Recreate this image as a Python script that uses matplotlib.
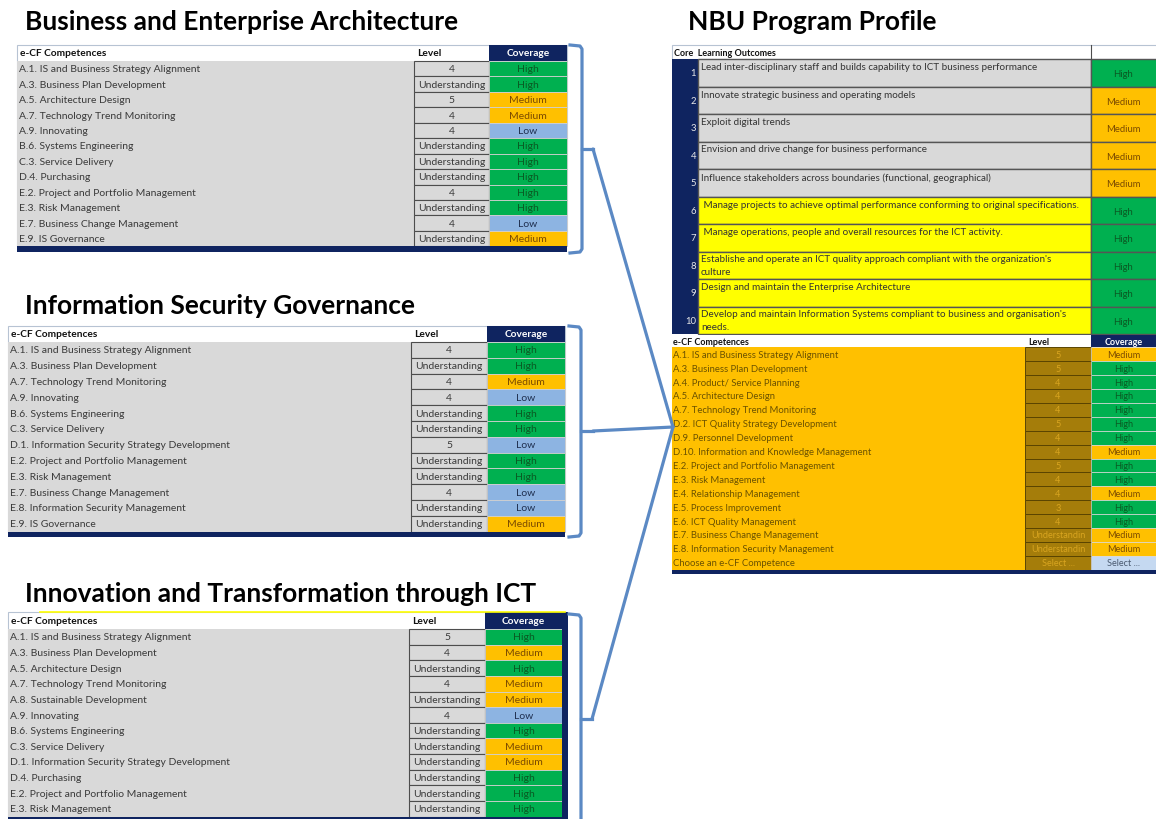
import matplotlib as mpl
import matplotlib.pyplot as plt
from matplotlib.patches import Rectangle

mpl.rcParams['font.family'] = ['Lato', 'DejaVu Sans']

# ---- data ----
bea_comp = ['A.1. IS and Business Strategy Alignment', 'A.3. Business Plan Development',
            'A.5. Architecture Design', 'A.7. Technology Trend Monitoring', 'A.9. Innovating',
            'B.6. Systems Engineering', 'C.3. Service Delivery', 'D.4. Purchasing',
            'E.2. Project and Portfolio Management', 'E.3. Risk Management',
            'E.7. Business Change Management', 'E.9. IS Governance']
bea_level = ['4', 'Understanding', '5', '4', '4', 'Understanding', 'Understanding',
             'Understanding', '4', 'Understanding', '4', 'Understanding']
bea_cov = ['High', 'High', 'Medium', 'Medium', 'Low', 'High', 'High', 'High', 'High',
           'High', 'Low', 'Medium']

isg_comp = ['A.1. IS and Business Strategy Alignment', 'A.3. Business Plan Development',
            'A.7. Technology Trend Monitoring', 'A.9. Innovating', 'B.6. Systems Engineering',
            'C.3. Service Delivery', 'D.1. Information Security Strategy Development',
            'E.2. Project and Portfolio Management', 'E.3. Risk Management',
            'E.7. Business Change Management', 'E.8. Information Security Management',
            'E.9. IS Governance']
isg_level = ['4', 'Understanding', '4', '4', 'Understanding', 'Understanding', '5',
             'Understanding', 'Understanding', '4', 'Understanding', 'Understanding']
isg_cov = ['High', 'High', 'Medium', 'Low', 'High', 'High', 'Low', 'High', 'High', 'Low',
           'Low', 'Medium']

itt_comp = ['A.1. IS and Business Strategy Alignment', 'A.3. Business Plan Development',
            'A.5. Architecture Design', 'A.7. Technology Trend Monitoring',
            'A.8. Sustainable Development', 'A.9. Innovating', 'B.6. Systems Engineering',
            'C.3. Service Delivery', 'D.1. Information Security Strategy Development',
            'D.4. Purchasing', 'E.2. Project and Portfolio Management', 'E.3. Risk Management']
itt_level = ['5', '4', 'Understanding', '4', 'Understanding', '4', 'Understanding',
             'Understanding', 'Understanding', 'Understanding', 'Understanding', 'Understanding']
itt_cov = ['High', 'Medium', 'High', 'Medium', 'Medium', 'Low', 'High', 'Medium', 'Medium',
           'High', 'High', 'High']

nbu_outcomes = [
    'Lead inter-disciplinary staff and builds capability to ICT business performance',
    'Innovate strategic business and operating models',
    'Exploit digital trends',
    'Envision and drive change for business performance',
    'Influence stakeholders across boundaries (functional, geographical)',
    ' Manage projects to achieve optimal performance conforming to original specifications.',
    ' Manage operations, people and overall resources for the ICT activity.',
    "Establishe and operate an ICT quality approach compliant with the organization's\nculture",
    'Design and maintain the Enterprise Architecture',
    "Develop and maintain Information Systems compliant to business and organisation's\nneeds.",
]
nbu_outcome_cov = ['High', 'Medium', 'Medium', 'Medium', 'Medium', 'High', 'High', 'High',
                   'High', 'High']

nbu_comp = ['A.1. IS and Business Strategy Alignment', 'A.3. Business Plan Development',
            'A.4. Product/ Service Planning', 'A.5. Architecture Design',
            'A.7. Technology Trend Monitoring', 'D.2. ICT Quality Strategy Development',
            'D.9. Personnel Development', 'D.10. Information and Knowledge Management',
            'E.2. Project and Portfolio Management', 'E.3. Risk Management',
            'E.4. Relationship Management', 'E.5. Process Improvement',
            'E.6. ICT Quality Management', 'E.7. Business Change Management',
            'E.8. Information Security Management', 'Choose an e-CF Competence']
nbu_level = ['5', '5', '4', '4', '4', '5', '4', '4', '5', '4', '4', '3', '4',
             'Understandin', 'Understandin', 'Select ...']
nbu_cov = ['Medium', 'High', 'High', 'High', 'High', 'High', 'High', 'Medium', 'High',
           'High', 'Medium', 'High', 'High', 'Medium', 'Medium', 'Select ...']

# ---- styles ----
NAVY = '#0f2460'
GRAY = '#d9d9d9'
BLUE_LINE = '#5b89c4'
cov_fill = {'High': '#00b050', 'Medium': '#ffc000', 'Low': '#8db4e2', 'Select ...': '#c5d9f1'}
cov_text = {'High': '#0a5a23', 'Medium': '#7a4a00', 'Low': '#1f2f4f', 'Select ...': '#4a5a70'}

fig = plt.figure(figsize=(11.56, 8.20), dpi=100)
ax = fig.add_axes([0, 0, 1, 1])
ax.set_xlim(0, 1156)
ax.set_ylim(820, 0)
ax.axis('off')


def box(x0, y0, x1, y1, fc, ec='none', lw=0.0, z=1):
    ax.add_patch(Rectangle((x0, y0), x1 - x0, y1 - y0, facecolor=fc, edgecolor=ec,
                           linewidth=lw, zorder=z))


def ecf_table(comps, levels, covs, x0, xl, xc, x1, y0, yh, yr, yb, right_bar=False):
    fs = 7.5
    # header
    box(x0, y0, x1, yr, 'white', ec='#b7c3d3', lw=0.8, z=0)
    ax.text(x0 + 3, (y0 + yh) / 2, 'e-CF Competences', fontsize=7.3, fontweight='bold',
            va='center', color='#111111', zorder=5)
    ax.text(xl + 3, (y0 + yh) / 2, 'Level', fontsize=7.3, fontweight='bold',
            va='center', color='#111111', zorder=5)
    box(xc, y0, x1, yh, NAVY, z=2)
    ax.text((xc + x1) / 2, (y0 + yh) / 2, 'Coverage', fontsize=7.3, fontweight='bold',
            ha='center', va='center', color='white', zorder=5)
    n = len(comps)
    h = (yr - yh) / n
    box(x0, yh, xl, yr, GRAY, z=1)
    for i in range(n):
        ya = yh + i * h
        yc = ya + h / 2
        ax.text(x0 + 2, yc, comps[i], fontsize=fs, va='center', color='#3a3a3a', zorder=5)
        box(xl, ya, xc, ya + h, GRAY, ec='#4d4d4d', lw=0.8, z=2)
        ax.text((xl + xc) / 2, yc, levels[i], fontsize=fs, ha='center', va='center',
                color='#3a3a3a', zorder=5)
        box(xc, ya, x1, ya + h, cov_fill[covs[i]], ec='#d0d0d0', lw=0.6, z=2)
        ax.text((xc + x1) / 2, yc, covs[i], fontsize=fs, ha='center', va='center',
                color=cov_text[covs[i]], zorder=5)
    box(x0, yr, x1 + (6 if right_bar else 0), yb, NAVY, z=3)
    if right_bar:
        box(x1, y0, x1 + 6, yb, NAVY, z=3)


def brace(x, y0, y1, ytip, xtip):
    ax.plot([x - 12, x - 2, x, x, x - 2, x - 12],
            [y0, y0 + 1, y0 + 4, y1 - 4, y1 - 1, y1],
            color=BLUE_LINE, lw=2.3, solid_joinstyle='round', zorder=6)
    ax.plot([x, xtip], [ytip, ytip], color=BLUE_LINE, lw=2.3, zorder=6)


# ---- titles ----
title_kw = dict(fontsize=19, fontweight='bold', va='center', color='black')
ax.text(25, 22, 'Business and Enterprise Architecture', **title_kw)
ax.text(25, 306, 'Information Security Governance', **title_kw)
ax.text(25, 594, 'Innovation and Transformation through ICT', **title_kw)
ax.text(688, 22, 'NBU Program Profile', **title_kw)

# ---- left tables ----
ecf_table(bea_comp, bea_level, bea_cov, 17, 414, 489, 567, 46, 62, 247.3, 253.3)
ecf_table(isg_comp, isg_level, isg_cov, 8, 411, 487, 565, 327, 343, 532.7, 537.5)
ax.plot([40, 565], [613, 613], color='#ffff00', lw=1.2, zorder=4)
ecf_table(itt_comp, itt_level, itt_cov, 8, 409, 485, 562, 613, 630, 817.7, 822,
          right_bar=True)

# ---- braces and connectors ----
brace(582, 46, 254, 150, 593)
brace(581, 327, 538, 432, 593)
brace(581, 615, 835, 720, 592)
hub = (673, 428)
for tip in [(593, 150), (593, 432), (592, 720)]:
    ax.plot([tip[0], hub[0]], [tip[1], hub[1]], color=BLUE_LINE, lw=2.3,
            solid_capstyle='round', zorder=6)

# ---- NBU program profile ----
rx0, rnum, rcov, rx1 = 672, 698, 1091, 1160
box(rx0, 46, rx1, 60, 'white', ec='#b7c3d3', lw=0.8, z=0)
ax.plot([rcov, rcov], [46, 60], color='#4d4d4d', lw=0.8, zorder=3)
ax.text(rx0 + 2, 53, 'Core  Learning Outcomes', fontsize=6.5, fontweight='bold',
        va='center', color='#111111', zorder=5)
oy0, oy1 = 60, 335
oh = (oy1 - oy0) / len(nbu_outcomes)
box(rx0, oy0, rnum, oy1, NAVY, z=2)
for i, txt in enumerate(nbu_outcomes):
    ya = oy0 + i * oh
    fc = GRAY if i < 5 else '#ffff00'
    box(rnum, ya, rcov, ya + oh, fc, ec='#555555', lw=1.0, z=2)
    ax.text(rnum - 2, ya + oh / 2, str(i + 1), fontsize=6.8, ha='right', va='center',
            color='#e8e8e8', zorder=5)
    ax.text(rnum + 3, ya + 3, txt, fontsize=7.1, va='top', color='#333333',
            linespacing=1.55, zorder=5)
    c = nbu_outcome_cov[i]
    box(rcov, ya, rx1, ya + oh, cov_fill[c], ec='#555555', lw=1.0, z=2)
    ax.text((rcov + 1156) / 2, ya + oh / 2 + 1, c, fontsize=6.8, ha='center', va='center',
            color=cov_text[c], zorder=5)

# e-CF part
ey0, eyh, eyr, eyb = 336, 348.3, 570.7, 575
rlvl = 1025
box(rx0, ey0, rcov, eyh, 'white', z=2)
ax.text(rx0 + 1, (ey0 + eyh) / 2, 'e-CF Competences', fontsize=6.5, fontweight='bold',
        va='center', color='#111111', zorder=5)
ax.text(rlvl + 3, (ey0 + eyh) / 2, 'Level', fontsize=6.5, fontweight='bold',
        va='center', color='#111111', zorder=5)
box(rcov, ey0, rx1, eyh, NAVY, z=2)
ax.text((rcov + 1156) / 2, (ey0 + eyh) / 2, 'Coverage', fontsize=6.5, fontweight='bold',
        ha='center', va='center', color='white', zorder=5)
eh = (eyr - eyh) / len(nbu_comp)
box(rx0, eyh, rlvl, eyr, '#ffc000', z=1)
for i in range(len(nbu_comp)):
    ya = eyh + i * eh
    yc = ya + eh / 2
    ax.text(rx0 + 1, yc, nbu_comp[i], fontsize=6.8, va='center', color='#6b5200', zorder=5)
    box(rlvl, ya, rcov, ya + eh, '#a57d0a', ec='#5a4500', lw=0.7, z=2)
    ax.text((rlvl + rcov) / 2, yc, nbu_level[i], fontsize=6.6, ha='center', va='center',
            color='#d9a520', zorder=5)
    c = nbu_cov[i]
    box(rcov, ya, rx1, ya + eh, cov_fill[c], ec='#d9d9d9', lw=0.5, z=2)
    ax.text((rcov + 1156) / 2, yc, c, fontsize=6.6, ha='center', va='center',
            color=cov_text[c], zorder=5)
box(rx0, eyr, rx1, eyb, NAVY, z=3)

fig.savefig('out.png', dpi=100)
